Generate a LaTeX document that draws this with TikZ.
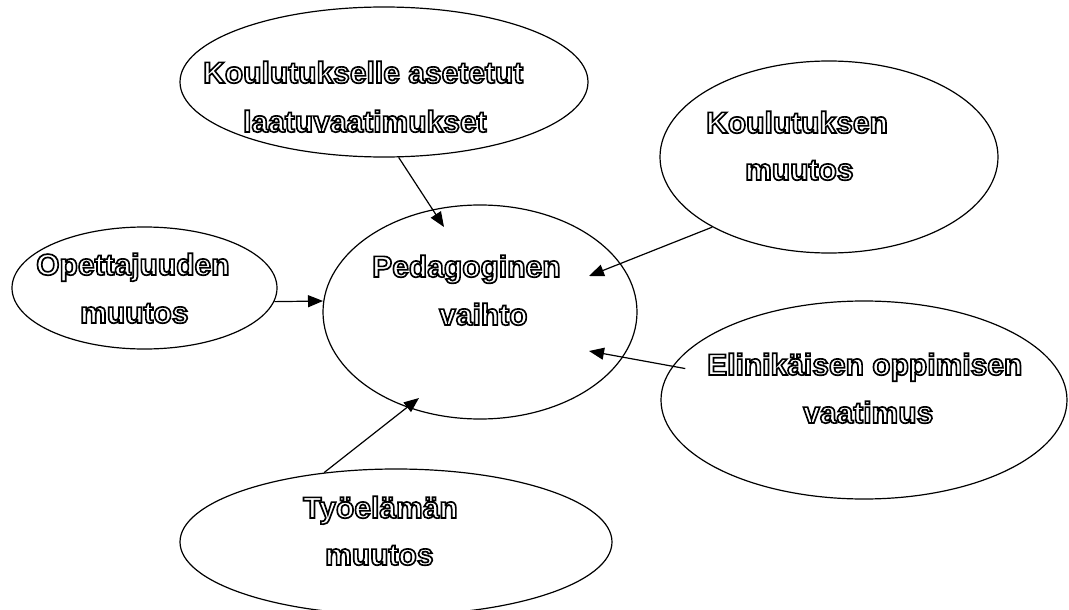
\documentclass[tikz,border=0pt]{standalone}
\usepackage{fontspec}
\setmainfont{Liberation Sans}
\newfontfamily\hollowfont[RawFeature={embolden=5.5}]{Liberation Sans Bold}
\usetikzlibrary{shapes.geometric,arrows.meta}
\newcommand\hollowtext[1]{\special{pdf:bcolor [1] [0]}#1\special{pdf:ecolor}}
\begin{document}
\begin{tikzpicture}[x=1pt,y=-1pt,
  bubble/.style={draw,ellipse,line width=1.2pt,inner sep=0pt},
  lbl/.style={anchor=base west,inner sep=0pt,font=\hollowfont\fontsize{30}{36}\selectfont},
  arr/.style={line width=1.2pt,-{Triangle[length=15pt,width=12pt]}}]
\useasboundingbox (0,0) rectangle (1069,610);
% ellipses
\node[bubble,minimum width=408pt,minimum height=150pt] (T) at (384,82) {};
\node[bubble,minimum width=338pt,minimum height=192pt] (K) at (829,157) {};
\node[bubble,minimum width=265pt,minimum height=122pt] (O) at (144.5,288) {};
\node[bubble,minimum width=314pt,minimum height=214pt] (P) at (480,312) {};
\node[bubble,minimum width=406pt,minimum height=198pt] (E) at (864,400) {};
\node[bubble,minimum width=432pt,minimum height=146pt] (W) at (396,542) {};
% texts
\node[lbl] (t1) at (203,83) {\hollowtext{Koulutukselle asetetut}};
\node[lbl] (t2) at (243,132) {\hollowtext{laatuvaatimukset}};
\node[lbl] (k1) at (706,133) {\hollowtext{Koulutuksen}};
\node[lbl] (k2) at (745,180) {\hollowtext{muutos}};
\node[lbl] (o1) at (36,275) {\hollowtext{Opettajuuden}};
\node[lbl] (o2) at (80,323) {\hollowtext{muutos}};
\node[lbl] (p1) at (372,277) {\hollowtext{Pedagoginen}};
\node[lbl] (p2) at (439,325) {\hollowtext{vaihto}};
\node[lbl] (e1) at (707,375) {\hollowtext{Elinikäisen oppimisen}};
\node[lbl] (e2) at (803,423) {\hollowtext{vaatimus}};
\node[lbl] (w1) at (303,518) {\hollowtext{Työelämän}};
\node[lbl] (w2) at (325,565) {\hollowtext{muutos}};
% arrow tips inside the central ellipse
\coordinate (tipT) at (444,227);
\coordinate (tipK) at (589,276);
\coordinate (tipO) at (323,301);
\coordinate (tipE) at (589,351);
\coordinate (tipW) at (419,398);
\draw[arr] (T.-79) -- (tipT);
\draw[arr] (K.211) -- (tipK);
\draw[arr] (O.-6) -- (tipO);
\draw[arr,shorten <=-13pt] (E.170) -- (tipE);
\draw[arr] (W.136) -- (tipW);
\end{tikzpicture}
\end{document}
